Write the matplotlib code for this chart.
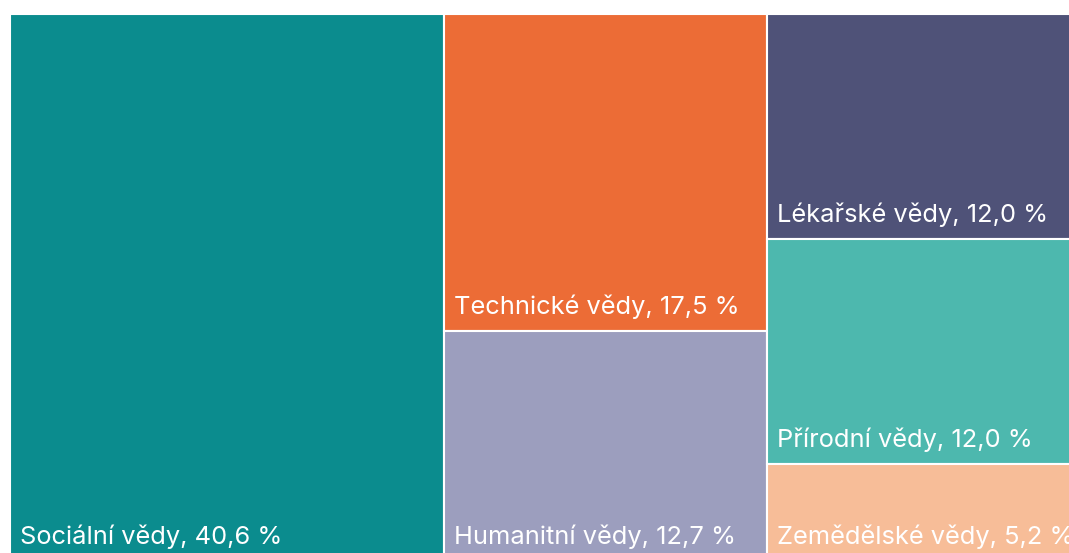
import matplotlib.pyplot as plt
from matplotlib.patches import Rectangle
from matplotlib.transforms import offset_copy

# data: obory a podíly (%)
obory = ['Sociální vědy', 'Technické vědy', 'Humanitní vědy',
         'Lékařské vědy', 'Přírodní vědy', 'Zemědělské vědy']
podily = [40.6, 17.5, 12.7, 12.0, 12.0, 5.2]
sloupce = [[0], [1, 2], [3, 4, 5]]   # rozdělení do sloupců treemapy
barvy = ['#0B8C8E', '#EC6C36', '#9C9EBE', '#4F5278', '#4DB8AE', '#F7BD98']

plt.rcParams['font.family'] = ['Inter', 'DejaVu Sans']

fig = plt.figure(figsize=(10.69, 5.53), dpi=100, facecolor='w')
ax = fig.add_axes([10 / 1069, (553 - 561) / 553, 1.0, 547 / 553])
ax.set_xlim(0, sum(podily))
ax.set_ylim(1, 0)
ax.axis('off')

x0 = 0
for sl in sloupce:
    w = sum(podily[i] for i in sl)
    y0 = 0
    for i in sl:
        h = podily[i] / w
        ax.add_patch(Rectangle((x0, y0), w, h, facecolor=barvy[i],
                               edgecolor='white', linewidth=1.5))
        tr = offset_copy(ax.transData, fig=fig, x=10, y=17, units='dots')
        lab = '%s, %s %%' % (obory[i], ('%.1f' % podily[i]).replace('.', ','))
        ax.text(x0, y0 + h, lab, transform=tr, color='white', fontsize=18.3,
                ha='left', va='baseline')
        y0 += h
    x0 += w

fig.savefig('out.png', dpi=100)
